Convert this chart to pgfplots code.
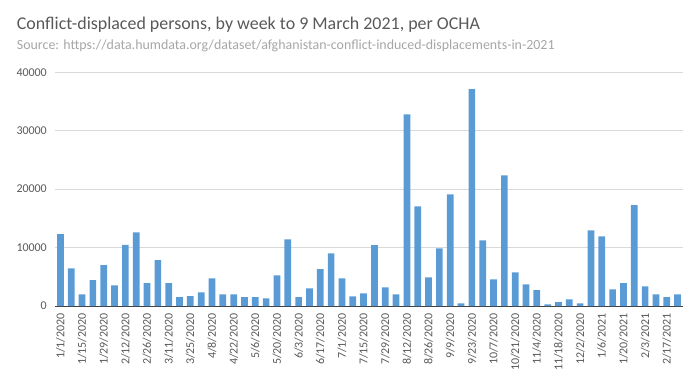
\documentclass[border=0pt]{standalone}
\usepackage{pgfplots}
\pgfplotsset{compat=1.18}
\usepackage{fontspec}
\setmainfont{Carlito}
\definecolor{barblue}{HTML}{5B9BD5}
\definecolor{titlegrey}{HTML}{595959}
\definecolor{srcgrey}{HTML}{A6A6A6}
\definecolor{gridgrey}{HTML}{D9D9D9}
\definecolor{axisgrey}{HTML}{404040}
\begin{document}
\begin{tikzpicture}[x=1bp,y=1bp]
\path[use as bounding box] (-55,-78) rectangle (640,306);
\node[anchor=base west, inner sep=0pt, text=titlegrey, font=\fontsize{18}{20}\selectfont] at (-38.3,276.7) {Conflict-displaced persons, by week to 9 March 2021, per OCHA};
\node[anchor=base west, inner sep=0pt, text=srcgrey, font=\fontsize{14}{16}\selectfont] at (-38.3,256.7) {Source: https://data.humdata.org/dataset/afghanistan-conflict-induced-displacements-in-2021};
\begin{axis}[
  at={(0,0)}, anchor=south west,
  scale only axis, width=628bp, height=233.7bp,
  xmin=0.5, xmax=58.5, ymin=0, ymax=40000,
  ybar, bar width=6.7bp,
  axis x line*=bottom, axis y line*=left,
  y axis line style={draw=none},
  x axis line style={draw=axisgrey, line width=0.9pt, -},
  major tick length=0pt,
  ymajorgrids, grid style={draw=gridgrey, line width=0.8pt},
  ytick={0,10000,20000,30000,40000},
  scaled y ticks=false,
  /pgf/number format/1000 sep={},
  /pgf/number format/assume math mode=true,
  y tick label style={font=\fontsize{12}{14}\selectfont, text=titlegrey, inner sep=0pt},
  yticklabel shift=8bp,
  xtick={1,3,...,57},
  xticklabels={1/1/2020,1/15/2020,1/29/2020,2/12/2020,2/26/2020,3/11/2020,3/25/2020,4/8/2020,4/22/2020,5/6/2020,5/20/2020,6/3/2020,6/17/2020,7/1/2020,7/15/2020,7/29/2020,8/12/2020,8/26/2020,9/9/2020,9/23/2020,10/7/2020,10/21/2020,11/4/2020,11/18/2020,12/2/2020,1/6/2021,1/20/2021,2/3/2021,2/17/2021},
  x tick label style={font=\fontsize{12}{14}\selectfont, text=titlegrey, rotate=90, anchor=east, inner sep=0pt},
  xticklabel shift=7bp,
]
\addplot[fill=barblue, draw=none] coordinates {
(1,12300) (2,6450) (3,2000) (4,4450) (5,7000) (6,3550) (7,10450) (8,12600) (9,3900) (10,7850)
(11,3900) (12,1500) (13,1700) (14,2350) (15,4750) (16,2000) (17,2000) (18,1500) (19,1500) (20,1300)
(21,5250) (22,11400) (23,1500) (24,3000) (25,6300) (26,9000) (27,4750) (28,1650) (29,2150) (30,10400)
(31,3200) (32,2000) (33,32800) (34,17050) (35,4900) (36,9850) (37,19100) (38,450) (39,37100) (40,11250)
(41,4550) (42,22350) (43,5750) (44,3700) (45,2700) (46,300) (47,650) (48,1150) (49,450) (50,12950)
(51,11900) (52,2850) (53,3900) (54,17250) (55,3350) (56,2000) (57,1500) (58,2000)
};
\end{axis}
\end{tikzpicture}
\end{document}
